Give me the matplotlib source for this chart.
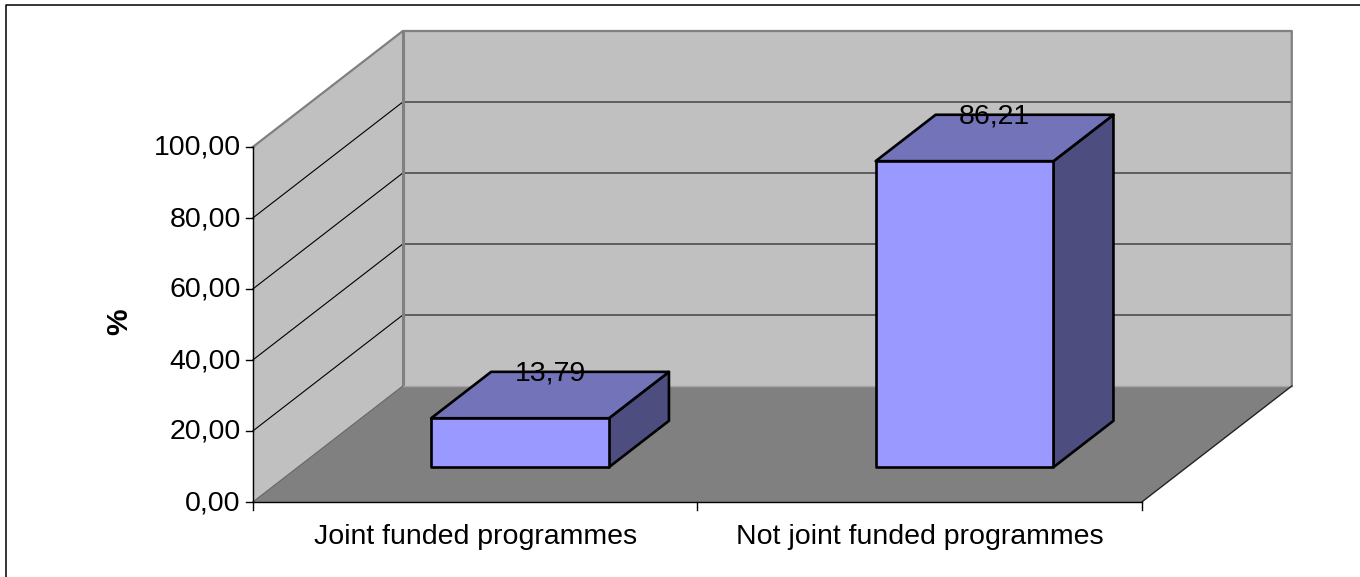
import matplotlib
matplotlib.use('Agg')
import matplotlib.pyplot as plt
from matplotlib.patches import Polygon

# Datos de la grafica
categorias = ['Joint funded programmes', 'Not joint funded programmes']
valores = [13.79, 86.21]
etiquetas = ['13,79', '86,21']
ticks_y = [0, 20, 40, 60, 80, 100]
ticks_y_txt = ['0,00', '20,00', '40,00', '60,00', '80,00', '100,00']

plt.rcParams['font.family'] = ['Liberation Sans', 'DejaVu Sans']


# Proyeccion oblicua: categoria, valor y profundidad a pixeles
def p(cat, val, prof):
    return (252.8 + 444.5 * cat + 150 * prof, 502 - 3.55 * val - 116 * prof)


fig = plt.figure(figsize=(13.6, 5.77), dpi=100)
ax = fig.add_axes([0, 0, 1, 1])
ax.set_xlim(0, 1360)
ax.set_ylim(577, 0)
ax.axis('off')

# Borde del area (solo arriba e izquierda)
ax.plot([6, 6, 1360], [577, 5, 5], color='black', lw=1.1, zorder=1)

# Paredes y suelo
gris = '#c0c0c0'
borde = '#808080'
ax.add_patch(Polygon([p(0, 0, 0), p(0, 100, 0), p(0, 100, 1), p(0, 0, 1)], fc=gris, ec='none', zorder=1))
ax.add_patch(Polygon([p(0, 0, 1), p(0, 100, 1), p(2, 100, 1), p(2, 0, 1)], fc=gris, ec='none', zorder=1))
ax.add_patch(Polygon([p(0, 0, 0), p(2, 0, 0), p(2, 0, 1), p(0, 0, 1)], fc=borde, ec='none', zorder=1))

# Lineas de rejilla
for t in ticks_y[1:-1]:
    ax.plot(*zip(p(0, t, 0), p(0, t, 1)), color='black', lw=0.8, zorder=2)
    ax.plot(*zip(p(0, t, 1), p(2, t, 1)), color='#4d4d4d', lw=1.2, zorder=2)

# Contorno gris de las paredes
ax.plot(*zip(p(0, 100, 0), p(0, 100, 1), p(2, 100, 1), p(2, 0, 1)), color=borde, lw=1.6, zorder=2)
ax.plot(*zip(p(0, 100, 1), p(0, 0, 1)), color=borde, lw=2.2, zorder=2)
ax.plot(*zip(p(0, 0, 1), p(2, 0, 1)), color='#a6a6a6', lw=1, zorder=2)
ax.plot(*zip(p(2, 0, 0), p(2, 0, 1)), color='#222222', lw=1, zorder=2)

# Ejes
ax.plot(*zip(p(0, 100, 0), p(0, 0, 0), p(2, 0, 0)), color='black', lw=1, zorder=3)
ax.plot(*zip(p(0, 0, 0), p(0, 0, 1)), color='#666666', lw=0.8, zorder=2)
for t, txt in zip(ticks_y, ticks_y_txt):
    x0, y0 = p(0, t, 0)
    ax.plot([x0 - 7, x0], [y0, y0], color='black', lw=1, zorder=3)
    ax.text(x0 - 12, y0 + 1, txt, ha='right', va='center', fontsize=20.5, zorder=5)
for c in range(3):
    x0, y0 = p(c, 0, 0)
    ax.plot([x0, x0], [y0, y0 + 8], color='black', lw=1, zorder=3)
for c, txt in enumerate(categorias):
    x0, y0 = p(c + 0.5, 0, 0)
    ax.text(x0 + 0.5, y0 + 35, txt, ha='center', va='center', fontsize=20.5, zorder=5)
ax.text(119, 322, '%', rotation=90, ha='center', va='center', fontsize=21.5, fontweight='bold')

# Barras
p1, p2 = 0.3, 0.7
for i, v in enumerate(valores):
    c0, c1 = i + 0.3, i + 0.7
    ax.add_patch(Polygon([p(c1, 0, p1), p(c1, 0, p2), p(c1, v, p2), p(c1, v, p1)],
                         fc='#4d4d80', ec='black', lw=1.9, joinstyle='round', zorder=4))
    ax.add_patch(Polygon([p(c0, v, p1), p(c0, v, p2), p(c1, v, p2), p(c1, v, p1)],
                         fc='#7373b9', ec='black', lw=1.9, joinstyle='round', zorder=4))
    ax.add_patch(Polygon([p(c0, 0, p1), p(c1, 0, p1), p(c1, v, p1), p(c0, v, p1)],
                         fc='#9999ff', ec='black', lw=1.9, joinstyle='round', zorder=4))
    # La etiqueta cae sobre el borde trasero, centrada en la cara superior
    xe = p(i + 0.5, v, 0.5)[0]
    ye = p(i + 0.5, v, p2)[1]
    ax.text(xe, ye + 1.5, etiquetas[i], ha='center', va='center', fontsize=20.5, zorder=6)

fig.savefig('out.png', dpi=100)
